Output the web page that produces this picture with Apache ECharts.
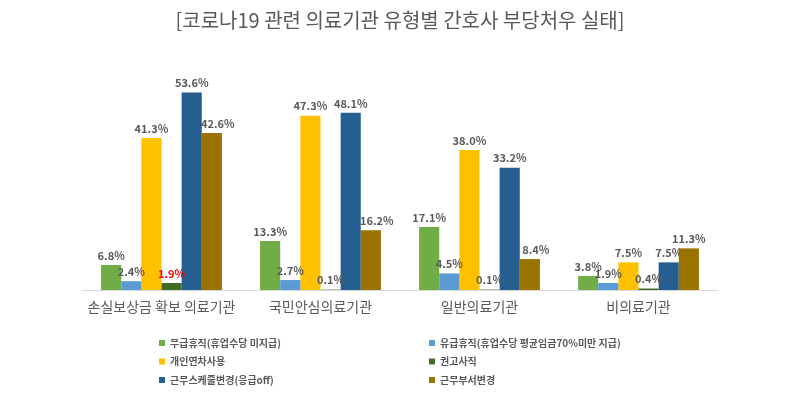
<!DOCTYPE html>
<html><head><meta charset="utf-8">
<script src="https://cdn.jsdelivr.net/npm/echarts@6/dist/echarts.min.js"></script>
<style>html,body{margin:0;padding:0;background:#fff}#c{width:800px;height:395px}</style>
</head><body><div id="c"></div>
<script>
const categories = ['손실보상금 확보 의료기관', '국민안심의료기관', '일반의료기관', '비의료기관'];
const seriesNames = ['무급휴직(휴업수당 미지급)', '유급휴직(휴업수당 평균임금70%미만 지급)', '개인연차사용', '권고사직', '근무스케줄변경(응급off)', '근무부서변경'];
const unpaidLeave = [6.8, 13.3, 17.1, 3.8];
const paidLeave = [2.4, 2.7, 4.5, 1.9];
const annualLeave = [41.3, 47.3, 38.0, 7.5];
const resignation = [1.9, 0.1, 0.1, 0.4];
const scheduleChange = [53.6, 48.1, 33.2, 7.5];
const deptChange = [42.6, 16.2, 8.4, 11.3];
const allValues = [unpaidLeave, paidLeave, annualLeave, resignation, scheduleChange, deptChange];
const colors = ['#70AD47', '#5B9BD5', '#FFC000', '#3F6B27', '#255E91', '#9A7200'];
const zOrder = [2, 3, 2, 3, 2, 3];

const font = '"Noto Sans CJK KR", "Noto Sans", sans-serif';
const chart = echarts.init(document.getElementById('c'));
const series = allValues.map((vals, i) => ({
  name: seriesNames[i],
  type: 'bar',
  z: zOrder[i],
  data: vals.map((v, j) => {
    const d = { value: v };
    if (i === 3 && j === 0) d.label = { color: '#FF0000' };
    if (i === 5 && j < 3) d.label = { offset: [6, 0] };
    return d;
  }),
  barGap: '0%',
  barCategoryGap: '24%',
  itemStyle: { color: colors[i] },
  label: {
    show: true, position: 'top', distance: 4,
    formatter: p => p.value.toFixed(1) + '%',
    fontFamily: font, fontSize: 11, fontWeight: 'bold', color: '#595959'
  }
}));
const legendText = { fontFamily: font, fontSize: 10, fontWeight: 'bold', color: '#595959' };
chart.setOption({
  animation: false,
  title: {
    text: '[코로나19 관련 의료기관 유형별 간호사 부당처우 실태]',
    left: 'center', top: 5,
    textStyle: { fontFamily: font, fontSize: 20, fontWeight: 'normal', color: '#595959' }
  },
  grid: { left: 82, right: 82, top: 69, bottom: 105 },
  xAxis: {
    type: 'category', data: categories,
    axisLine: { lineStyle: { color: '#D9D9D9' } },
    axisTick: { show: false },
    axisLabel: { interval: 0, fontFamily: font, fontSize: 14, color: '#595959', margin: 10 }
  },
  yAxis: { type: 'value', min: 0, max: 60, show: false },
  legend: [
    { data: [seriesNames[0], seriesNames[2], seriesNames[4]], orient: 'vertical', left: 159, top: 338, padding: 0, itemWidth: 6, itemHeight: 6, itemGap: 8.5, icon: 'rect', textStyle: legendText },
    { data: [seriesNames[1], seriesNames[3], seriesNames[5]], orient: 'vertical', left: 429, top: 338, padding: 0, itemWidth: 6, itemHeight: 6, itemGap: 8.5, icon: 'rect', textStyle: legendText }
  ],
  series: series
});
</script></body></html>
